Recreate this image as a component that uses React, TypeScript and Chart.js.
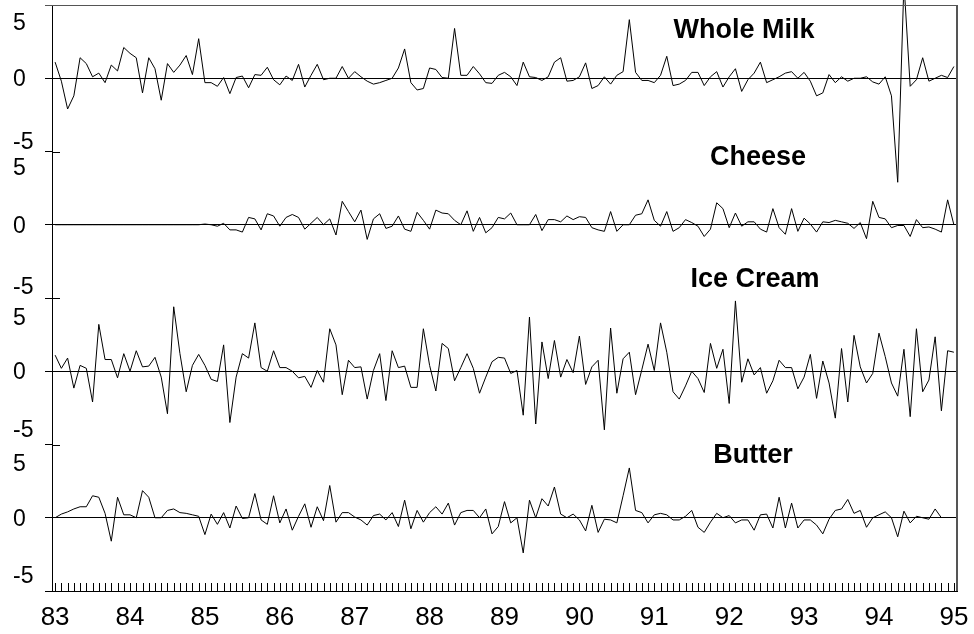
import React, { useEffect, useRef } from 'react';
import { Chart, registerables } from 'chart.js';

Chart.register(...registerables);

// ---------- data ----------
const yearLabels = ['83', '84', '85', '86', '87', '88', '89', '90', '91', '92', '93', '94', '95'];
// month index since Jan 1983 (0 .. 144)
const months = Array.from({ length: 145 }, (_, i) => i);

const wholeMilk = [
  1.1, -0.2, -2.1, -1.2, 1.4, 1.0, 0.1, 0.35, -0.3, 0.9,
  0.5, 2.1, 1.7, 1.4, -1.0, 1.4, 0.65, -1.5, 1.0, 0.4,
  0.9, 1.55, 0.25, 2.7, -0.3, -0.3, -0.55, 0.05, -1.05, 0.05,
  0.15, -0.65, 0.25, 0.2, 0.75, -0.1, -0.45, 0.15, -0.15, 0.95,
  -0.6, 0.2, 0.95, -0.1, 0.0, 0.0, 0.8, 0.0, 0.45, 0.1,
  -0.2, -0.4, -0.3, -0.15, 0.0, 0.7, 2.0, -0.3, -0.8, -0.7,
  0.7, 0.6, 0.05, 0.0, 3.4, 0.2, 0.2, 0.8, 0.3, -0.3,
  -0.35, 0.2, 0.4, 0.1, -0.5, 1.1, 0.1, 0.05, -0.15, 0.1,
  1.1, 1.4, -0.2, -0.15, 0.1, 1.05, -0.7, -0.5, 0.1, -0.4,
  0.2, 0.45, 4.0, 0.4, -0.15, -0.15, -0.3, 0.2, 1.5, -0.5,
  -0.4, -0.15, 0.4, 0.4, -0.5, 0.1, 0.45, -0.6, 0.1, 0.65,
  -0.9, -0.1, 0.35, 1.1, -0.3, -0.1, 0.1, 0.35, 0.45, 0.0,
  0.4, -0.2, -1.2, -1.0, 0.25, -0.3, 0.1, -0.2, 0.0, 0.0,
  0.1, -0.25, -0.4, 0.1, -1.2, -7.1, 6.5, -0.55, -0.1, 1.4,
  -0.2, 0.0, 0.2, 0.05, 0.8,
];

const cheese = [
  0, 0, 0, 0, 0, 0, 0, 0, 0, 0,
  0, 0, 0, 0, 0, 0, 0, 0, 0, 0,
  0, 0, 0, 0.0, 0.05, 0.0, -0.1, 0.1, -0.35, -0.35,
  -0.5, 0.5, 0.4, -0.35, 0.75, 0.6, -0.1, 0.5, 0.7, 0.5,
  -0.3, 0.1, 0.5, 0.0, 0.4, -0.7, 1.6, 0.9, 0.2, 1.0,
  -1.0, 0.4, 0.75, -0.25, -0.1, 0.6, -0.3, -0.45, 0.85, 0.3,
  -0.3, 1.0, 0.8, 0.75, 0.3, 0.0, 0.95, -0.45, 0.5, -0.55,
  -0.2, 0.5, 0.4, 0.8, 0.0, 0.0, 0.0, 0.7, -0.4, 0.35,
  0.35, 0.2, 0.6, 0.35, 0.55, 0.5, -0.2, -0.35, -0.45, 0.9,
  -0.45, 0.0, 0.0, 0.65, 0.75, 1.7, 0.3, -0.1, 0.9, -0.45,
  -0.2, 0.35, 0.15, -0.1, -0.8, -0.3, 1.5, 1.1, -0.2, 0.8,
  -0.1, 0.2, 0.2, -0.3, -0.5, 1.1, -0.2, -0.65, 1.1, -0.45,
  0.45, 0.05, -0.5, 0.2, 0.15, 0.3, 0.2, 0.1, -0.25, 0.15,
  -0.95, 1.6, 0.5, 0.4, -0.2, -0.05, -0.05, -0.8, 0.35, -0.2,
  -0.15, -0.3, -0.5, 1.7, 0.0,
];

const iceCream = [
  1.1, 0.2, 0.9, -1.15, 0.4, 0.2, -2.1, 3.2, 0.8, 0.8,
  -0.45, 1.2, 0.0, 1.4, 0.3, 0.35, 0.95, -0.4, -2.9, 4.4,
  1.2, -1.4, 0.4, 1.15, 0.4, -0.55, -0.7, 1.8, -3.5, -0.4,
  1.2, 0.9, 3.3, 0.25, 0.0, 1.4, 0.25, 0.25, 0.0, -0.45,
  -0.35, -1.1, 0.05, -0.75, 2.9, 1.8, -1.6, 0.75, 0.25, 0.3,
  -1.9, 0.05, 1.2, -2.0, 1.4, 0.25, 0.35, -1.1, -1.1, 2.9,
  0.4, -1.35, 1.9, 1.55, -0.65, 0.25, 1.2, 0.2, -1.5, -0.4,
  0.65, 0.95, 0.9, -0.15, 0.05, -3.0, 3.7, -3.6, 2.0, -0.5,
  2.1, -0.4, 0.8, -0.1, 2.4, -0.9, 0.3, 0.75, -4.0, 2.95,
  -1.5, 0.85, 1.3, -1.6, 0.1, 1.85, 0.05, 3.3, 1.3, -1.4,
  -1.9, -1.0, 0.0, -0.5, -1.45, 1.9, 0.2, 1.5, -2.2, 4.8,
  -0.75, 0.85, -0.25, 0.25, -1.5, -0.65, 0.75, 0.25, 0.25, -1.2,
  -0.4, 1.15, -1.85, 0.7, -0.8, -3.2, 1.55, -2.1, 2.45, 0.3,
  -0.8, -0.15, 2.6, 1.0, -0.8, -1.7, 1.5, -3.1, 2.9, -1.4,
  -0.6, 2.35, -2.7, 1.4, 1.3,
];

const butter = [
  0.0, 0.25, 0.4, 0.6, 0.75, 0.75, 1.5, 1.4, 0.3, -1.6,
  1.4, 0.2, 0.2, 0.0, 1.85, 1.4, 0.0, 0.0, 0.5, 0.6,
  0.35, 0.3, 0.2, 0.1, -1.15, 0.25, -0.45, 0.35, -0.7, 0.8,
  -0.05, 0.0, 1.65, -0.15, -0.45, 1.5, -0.35, 0.6, -0.85, 0.1,
  0.95, -0.65, 0.75, -0.2, 2.2, -0.3, 0.35, 0.35, 0.05, -0.15,
  -0.5, 0.15, 0.25, -0.15, 0.35, -0.6, 1.2, -0.75, 0.5, -0.3,
  0.35, 0.75, 0.25, 1.0, -0.5, 0.35, 0.5, 0.5, 0.0, 0.6,
  -1.1, -0.6, 1.1, -0.35, 0.0, -2.4, 1.2, 0.0, 1.3, 0.8,
  2.1, 0.25, 0.0, 0.25, -0.15, -0.9, 0.85, -1.0, -0.1, -0.15,
  -0.35, 1.5, 3.4, 0.5, 0.35, -0.35, 0.2, 0.3, 0.2, -0.15,
  -0.15, 0.1, 0.5, -0.65, -1.0, -0.3, 0.3, 0.0, 0.15, -0.35,
  -0.15, -0.15, -0.85, 0.2, 0.25, -0.7, 1.4, -0.7, 1.0, -0.7,
  -0.15, -0.15, -0.5, -1.1, -0.1, 0.5, 0.6, 1.25, 0.3, 0.5,
  -0.65, 0.0, 0.2, 0.4, 0.0, -1.3, 0.45, -0.35, 0.1, 0.0,
  -0.1, 0.6, 0.0,
];

const panelTitles = ['Whole Milk', 'Cheese', 'Ice Cream', 'Butter'];
const panelSeries = [wholeMilk, cheese, iceCream, butter];
const panelAxes = ['yWM', 'yCH', 'yIC', 'yBU'];
const yTickValues = [5, 0, -5];

// ---------- styles / positions ----------
const W = 974;
const H = 634;
const FONT = '"Liberation Sans", Arial, Helvetica, sans-serif';
const titleX = [744, 758, 755, 753];
const titleDy = [-40, -60, -84, -55];
// baseline offsets of the y labels relative to their tick, per panel
const labelDyTop = [25, 23, 27, 26];
const labelDyZero = [8, 8, 8, 8];
const labelDyBottom = [-3, -4, -8, -8];

const overlay = {
  id: 'overlay',
  afterDraw(chart: any) {
    const ctx = chart.ctx as CanvasRenderingContext2D;
    const { left, right, top, bottom } = chart.chartArea;
    const xs = chart.scales.x;
    ctx.save();
    ctx.strokeStyle = '#000';
    ctx.lineWidth = 1;
    // monthly tick marks (inward)
    ctx.beginPath();
    months.forEach((m) => {
      const px = Math.round(xs.getPixelForValue(m)) + 0.5;
      ctx.moveTo(px, bottom);
      ctx.lineTo(px, bottom - 8);
    });
    ctx.stroke();

    // x labels
    ctx.fillStyle = '#000';
    ctx.font = `26px ${FONT}`;
    ctx.textAlign = 'center';
    ctx.textBaseline = 'alphabetic';
    yearLabels.forEach((lab, k) => {
      ctx.fillText(lab, xs.getPixelForValue(k * 12), bottom + 34);
    });

    // panels: y labels, inner ticks, titles
    panelAxes.forEach((id, p) => {
      const ys = chart.scales[id];
      ctx.font = `23px ${FONT}`;
      ctx.textAlign = 'left';
      yTickValues.forEach((v) => {
        const py = ys.getPixelForValue(v);
        const dy = v > 0 ? labelDyTop[p] : v < 0 ? labelDyBottom[p] : labelDyZero[p];
        ctx.fillText(String(v), 13, py + dy);
        if (v !== 0) {
          const ry = Math.round(py) + 0.5;
          ctx.beginPath();
          ctx.moveTo(left, ry);
          ctx.lineTo(left + 8, ry);
          ctx.stroke();
        }
      });
      ctx.font = `bold 27px ${FONT}`;
      ctx.textAlign = 'center';
      ctx.fillText(panelTitles[p], titleX[p], ys.getPixelForValue(0) + titleDy[p]);
    });

    // top and right frame
    ctx.strokeStyle = '#555';
    ctx.lineWidth = 1;
    ctx.beginPath();
    ctx.moveTo(left - 7, Math.round(top) + 0.5);
    ctx.lineTo(right, Math.round(top) + 0.5);
    ctx.stroke();
    ctx.lineWidth = 2;
    ctx.beginPath();
    ctx.moveTo(Math.round(right), top);
    ctx.lineTo(Math.round(right), bottom);
    ctx.stroke();
    ctx.restore();
  },
};

function yAxis(weight: number) {
  return {
    type: 'linear' as const,
    position: 'left' as const,
    stack: 'panels',
    stackWeight: 1,
    weight,
    min: -5,
    max: 5,
    ticks: { display: false, stepSize: 5 },
    grid: {
      drawTicks: true,
      tickLength: 7,
      tickColor: '#000',
      lineWidth: 1,
      color: (c: any) => (c.tick && c.tick.value === 0 ? '#000' : 'rgba(0,0,0,0)'),
    },
    border: { display: true, color: '#000', width: 1 },
    afterFit: (s: any) => {
      s.width = 52;
    },
  };
}

export default function App() {
  const ref = useRef<HTMLCanvasElement | null>(null);

  useEffect(() => {
    document.body.style.margin = '0';
    const canvas = ref.current!;
    const datasets = panelSeries.map((series, p) => ({
      label: panelTitles[p],
      data: series.map((v, i) => ({ x: months[i], y: v })),
      yAxisID: panelAxes[p],
      borderColor: '#000',
      borderWidth: 1,
      pointRadius: 0,
      tension: 0,
      fill: false,
      clip: false as any,
    }));
    const chart = new Chart(canvas, {
      type: 'line',
      data: { datasets },
      options: {
        responsive: false,
        animation: false,
        devicePixelRatio: 1,
        layout: { padding: { top: 5, right: 17, left: 0, bottom: 0 } },
        plugins: { legend: { display: false }, tooltip: { enabled: false } },
        scales: {
          x: {
            type: 'linear',
            position: 'bottom',
            min: -0.5,
            max: 144.5,
            ticks: { display: false },
            grid: { display: false },
            border: { display: true, color: '#000', width: 1 },
            afterFit: (s: any) => {
              s.height = 43;
            },
          },
          yWM: yAxis(4),
          yCH: yAxis(3),
          yIC: yAxis(2),
          yBU: yAxis(1),
        } as any,
      },
      plugins: [overlay],
    });
    return () => chart.destroy();
  }, []);

  return (
    <div style={{ position: 'fixed', left: 0, top: 0, width: W, height: H, background: '#fff' }}>
      <canvas ref={ref} width={W} height={H} style={{ display: 'block', width: W, height: H }} />
    </div>
  );
}
